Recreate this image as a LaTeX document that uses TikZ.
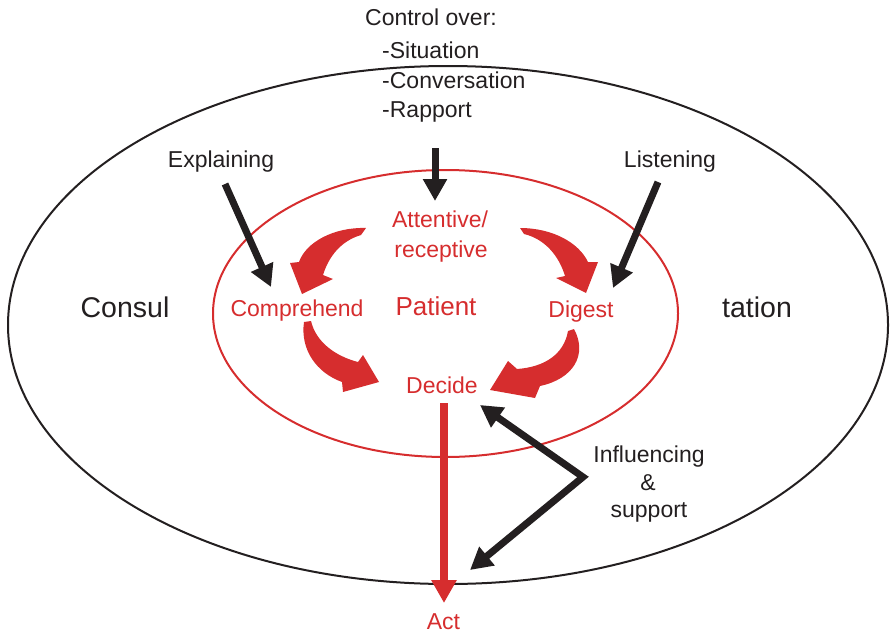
\documentclass[tikz,border=0pt]{standalone}
\usepackage{fontspec}
\setmainfont{Liberation Sans}
\usetikzlibrary{arrows.meta}
\definecolor{cred}{RGB}{214,45,46}
\definecolor{cblack}{RGB}{35,31,32}
\begin{document}
\begin{tikzpicture}[x=1pt,y=-1pt,
  lbl/.style={anchor=base, inner sep=0pt, font=\fontsize{23}{28}\selectfont, text=cblack},
  llbl/.style={lbl, anchor=base west},
  rlbl/.style={lbl, text=cred},
  biglbl/.style={lbl, font=\fontsize{28.5}{34}\selectfont},
  barrow/.style={draw=cblack, line width=7pt, -{Triangle[length=22pt,width=23pt]}},
  dbarrow/.style={draw=cblack, line width=7pt, line join=miter, {Triangle[length=22pt,width=23pt]}-{Triangle[length=22pt,width=23pt]}},
  rarrow/.style={draw=cred, line width=8pt, -{Triangle[length=23pt,width=24pt]}},
  redband/.style={fill=cred, draw=none},
  ring/.style={line width=2pt}]
\useasboundingbox (0,0) rectangle (890,634);

% ellipses
\draw[ring, draw=cblack] (448,325) ellipse [x radius=440pt, y radius=259pt];
\draw[ring, draw=cred] (445.5,313.5) ellipse [x radius=232.5pt, y radius=143.5pt];

% black texts
\node[lbl] (ctrl) at (431,26) {Control over:};
\node[llbl] (sit) at (382,59) {-Situation};
\node[llbl] (conv) at (382,88) {-Conversation};
\node[llbl] (rap) at (382,117) {-Rapport};
\node[lbl] (expl) at (221,167) {Explaining};
\node[lbl] (list) at (670,167) {Listening};
\node[biglbl] (consul) at (125,317) {Consul};
\node[biglbl] (tation) at (757,317) {tation};
\node[lbl] (infl) at (649,462) {Influencing};
\node[lbl] (amp) at (648,490) {\&};
\node[lbl] (supp) at (649,517) {support};

% red texts
\node[rlbl] (att) at (440,227) {Attentive/};
\node[rlbl] (rec) at (441,257) {receptive};
\node[rlbl] (comp) at (297,316) {Comprehend};
\node[rlbl, font=\fontsize{26}{31}\selectfont] (pat) at (436,315) {Patient};
\node[rlbl] (dig) at (581,317) {Digest};
\node[rlbl] (dec) at (442,393) {Decide};
\node[rlbl] (act) at (443.5,629) {Act};

% connector end points
\coordinate (ctrlS) at (435,148);
\coordinate (ctrlE) at (435,201);
\coordinate (explS) at (225,184);
\coordinate (explE) at (271,287);
\coordinate (listS) at (658,182);
\coordinate (listE) at (613,288);
\coordinate (inflA) at (480,405);
\coordinate (inflC) at (583,477);
\coordinate (inflB) at (470,570);
\coordinate (decS) at (444,403);
\coordinate (actE) at (444,603);

% black arrows
\draw[barrow] (ctrlS) -- (ctrlE);
\draw[barrow] (explS) -- (explE);
\draw[barrow] (listS) -- (listE);
\draw[dbarrow] (inflA) -- (inflC) -- (inflB);

% red straight arrow
\draw[rarrow] (decS) -- (actE);

% red curved arrows
\fill[redband] (366,228) .. controls (334,227) and (306,242) .. (299,262)
  -- (290,263) -- (302,294) -- (333,279) -- (323,275)
  .. controls (329,256) and (341,241) .. (361,235) -- cycle;
\fill[redband] (520,228) .. controls (553,228) and (579,243) .. (588,262)
  -- (598,262) -- (586,293) -- (556,278) -- (565,276)
  .. controls (559,256) and (545,239) .. (524,234) -- cycle;
\fill[redband] (304,322) .. controls (300,350) and (317,373) .. (342,382)
  -- (343,392) -- (379,382) -- (363,355) -- (358,362)
  .. controls (335,356) and (316,342) .. (311,321) -- cycle;
\fill[redband] (574,329) .. controls (588,355) and (573,379) .. (540,386)
  -- (535,398) -- (490,390) -- (508,361) -- (517,369)
  .. controls (545,367) and (564,354) .. (568,331) -- cycle;
\end{tikzpicture}
\end{document}
